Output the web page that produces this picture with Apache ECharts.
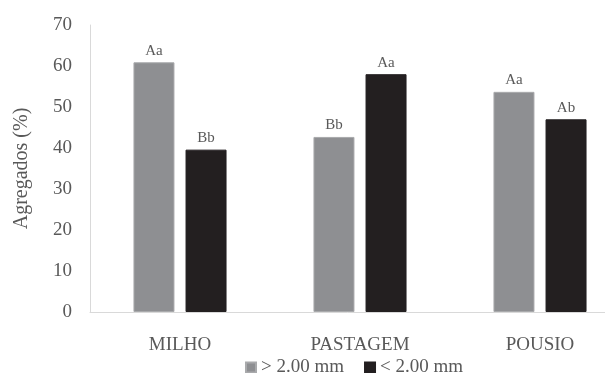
<!DOCTYPE html>
<html><head><meta charset="utf-8">
<script src="https://cdn.jsdelivr.net/npm/echarts@6/dist/echarts.min.js"></script>
<style>html,body{margin:0;padding:0;background:#fff}#c{width:605px;height:373px}</style>
</head><body><div id="c"></div>
<script>
const categories = ['MILHO', 'PASTAGEM', 'POUSIO'];
const seriesNames = ['> 2.00 mm', '< 2.00 mm'];
const valuesLarge = [60.9, 42.7, 53.7];
const valuesSmall = [39.6, 58.0, 47.0];
const lettersLarge = ['Aa', 'Bb', 'Aa'];
const lettersSmall = ['Bb', 'Aa', 'Ab'];
const yTicks = [0, 10, 20, 30, 40, 50, 60, 70];

const FONT = '"Liberation Serif", "DejaVu Serif", serif';
const TXT = '#595959';
const chart = echarts.init(document.getElementById('c'));
function mk(name, vals, letters, color, border) {
  return {
    name: name, type: 'bar', barWidth: 41, barGap: '27%',
    data: vals.map((v, i) => ({ value: v, label: { formatter: letters[i] } })),
    itemStyle: { color: color, borderColor: border, borderWidth: 1 },
    label: { show: true, position: 'top', distance: 4, color: TXT, fontFamily: FONT, fontSize: 15 }
  };
}
chart.setOption({
  animation: false,
  grid: { left: 90, top: 25, bottom: 61, width: 540, containLabel: false, outerBoundsMode: 'none' },
  legend: {
    data: seriesNames, left: 240, top: 353, itemWidth: 10, itemHeight: 10, itemGap: 20,
    icon: 'rect',
    textStyle: { color: TXT, fontFamily: FONT, fontSize: 19 }
  },
  xAxis: {
    type: 'category', data: categories,
    axisLine: { lineStyle: { color: '#d9d9d9', width: 1 } },
    axisTick: { show: false },
    axisLabel: { color: TXT, fontFamily: FONT, fontSize: 19, margin: 24 }
  },
  yAxis: {
    type: 'value', min: yTicks[0], max: yTicks[yTicks.length - 1], interval: 10,
    name: 'Agregados (%)', nameLocation: 'middle', nameGap: 58, nameRotate: 90,
    nameTextStyle: { color: TXT, fontFamily: FONT, fontSize: 20, padding: [0, 0, 0, 0] },
    axisLine: { show: true, lineStyle: { color: '#d9d9d9', width: 1 } },
    axisTick: { show: false },
    splitLine: { show: false },
    axisLabel: { color: TXT, fontFamily: FONT, fontSize: 19, margin: 18 }
  },
  series: [
    mk(seriesNames[0], valuesLarge, lettersLarge, '#8e8f92', '#a9aaac'),
    mk(seriesNames[1], valuesSmall, lettersSmall, '#231f20', '#231f20')
  ]
});
</script></body></html>
